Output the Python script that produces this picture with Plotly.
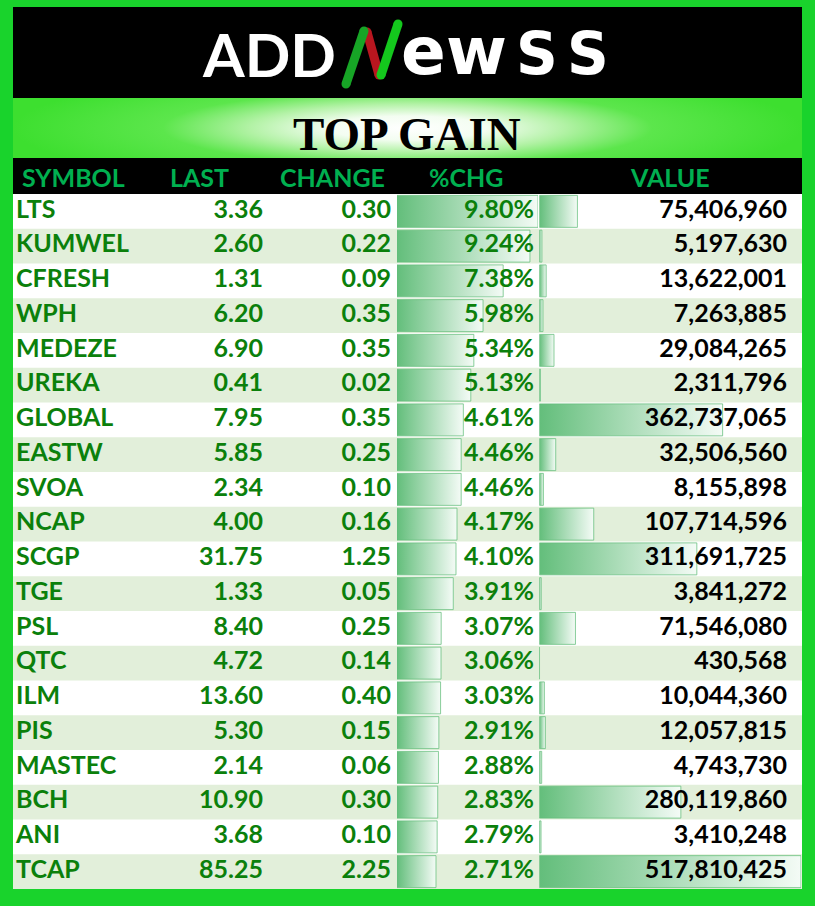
import plotly.graph_objects as go

# ---- data ----
symbols = ["LTS", "KUMWEL", "CFRESH", "WPH", "MEDEZE", "UREKA", "GLOBAL", "EASTW", "SVOA", "NCAP",
           "SCGP", "TGE", "PSL", "QTC", "ILM", "PIS", "MASTEC", "BCH", "ANI", "TCAP"]
last = [3.36, 2.60, 1.31, 6.20, 6.90, 0.41, 7.95, 5.85, 2.34, 4.00,
        31.75, 1.33, 8.40, 4.72, 13.60, 5.30, 2.14, 10.90, 3.68, 85.25]
change = [0.30, 0.22, 0.09, 0.35, 0.35, 0.02, 0.35, 0.25, 0.10, 0.16,
          1.25, 0.05, 0.25, 0.14, 0.40, 0.15, 0.06, 0.30, 0.10, 2.25]
pct_chg = [9.80, 9.24, 7.38, 5.98, 5.34, 5.13, 4.61, 4.46, 4.46, 4.17,
           4.10, 3.91, 3.07, 3.06, 3.03, 2.91, 2.88, 2.83, 2.79, 2.71]
value = [75406960, 5197630, 13622001, 7263885, 29084265, 2311796, 362737065, 32506560, 8155898, 107714596,
         311691725, 3841272, 71546080, 430568, 10044360, 12057815, 4743730, 280119860, 3410248, 517810425]
headers = ["SYMBOL", "LAST", "CHANGE", "%CHG", "VALUE"]
title = "TOP GAIN"

# ---- layout / style ----
W, H = 815, 906
LEFT, RIGHT = 13, 802
ROWS_TOP, ROWS_BOTTOM = 194, 889
BORDER = "#19d32c"
ROW_ALT = "#e2efda"
TXT_GREEN = "#0b800b"
HEAD_GREEN = "#00b050"
BAR_SCALE = [[0, "#63be7b"], [1, "#f4fbf6"]]
BAR_EDGE = "rgba(99,190,123,0.75)"
FONT = "Lato"
n = len(symbols)
rows = list(range(n))


def px(x):
    return x / W


def py(y):
    return 1 - y / H


fig = go.Figure()

# data bars: %CHG on x, VALUE on x2 (drawn before the text subplot x3)
h = 0.46
for axis, vals in (("x", pct_chg), ("x2", value)):
    for i, v in enumerate(vals):
        fig.add_trace(go.Scatter(
            x=[0, v, v, 0, 0], y=[i - h, i - h, i + h, i + h, i - h], xaxis=axis, yaxis="y",
            mode="lines", fill="toself", fillgradient=dict(type="horizontal", colorscale=BAR_SCALE),
            line=dict(color=BAR_EDGE, width=1), hoverinfo="skip", showlegend=False))


# table text on the pixel-wide x3 axis
def col_text(xpos, labels, pos, color):
    fig.add_trace(go.Scatter(
        x=[xpos] * n, y=rows, text=labels, mode="text", textposition=pos,
        textfont=dict(family=FONT, size=25, color=color, weight="bold"),
        xaxis="x3", yaxis="y", hoverinfo="skip", showlegend=False))


col_text(16, symbols, "middle right", TXT_GREEN)
col_text(263, [f"{v:.2f}" for v in last], "middle left", TXT_GREEN)
col_text(391, [f"{v:.2f}" for v in change], "middle left", TXT_GREEN)
col_text(534, [f"{v:.2f}%" for v in pct_chg], "middle left", TXT_GREEN)
col_text(787, [f"{v:,}" for v in value], "middle left", "#000000")

# gradient band behind the title (x3 / y2 pixel subplot)
fig.add_trace(go.Scatter(
    x=[LEFT, RIGHT, RIGHT, LEFT, LEFT], y=[68, 68, 188, 188, 68],
    xaxis="x3", yaxis="y2", mode="lines", fill="toself", line=dict(width=0),
    fillgradient=dict(type="radial", colorscale=[[0, "#ffffff"], [0.2, "#f3fdf1"], [0.4, "#b2f2a5"],
                                                 [0.62, "#5ce64c"], [1, "#3ddf2f"]]),
    hoverinfo="skip", showlegend=False))

shapes = [dict(type="rect", xref="paper", yref="paper", x0=px(LEFT), x1=px(RIGHT),
               y0=py(ROWS_BOTTOM), y1=py(ROWS_TOP), fillcolor="#ffffff", line=dict(width=0), layer="below")]
for i in rows:
    if i % 2 == 1:
        shapes.append(dict(type="rect", xref="paper", yref="y", x0=px(LEFT), x1=px(RIGHT),
                           y0=i - 0.5, y1=i + 0.5, fillcolor=ROW_ALT, line=dict(width=0), layer="below"))
# black logo header + column header bar
shapes.append(dict(type="rect", xref="paper", yref="paper", x0=px(LEFT), x1=px(RIGHT),
                   y0=py(98), y1=py(7), fillcolor="#000000", line=dict(width=0), layer="above"))
shapes.append(dict(type="rect", xref="paper", yref="paper", x0=px(LEFT), x1=px(RIGHT),
                   y0=py(ROWS_TOP), y1=py(158), fillcolor="#000000", line=dict(width=0), layer="above"))

# logo "N" strokes
strokes = [((367, 32), (379, 75), "#b8161f"),
           ((346, 84), (364, 31), "#17a526"),
           ((381, 75), (398, 24), "#14c81d")]
for (x0, y0), (x1, y1), c in strokes:
    shapes.append(dict(type="line", xref="paper", yref="paper", x0=px(x0), y0=py(y0), x1=px(x1), y1=py(y1),
                       line=dict(color=c, width=9), layer="above"))
    for (cx, cy) in [(x0, y0), (x1, y1)]:
        shapes.append(dict(type="circle", xref="paper", yref="paper", x0=px(cx - 4.5), x1=px(cx + 4.5),
                           y0=py(cy + 4.5), y1=py(cy - 4.5), fillcolor=c, line=dict(width=0), layer="above"))

annotations = [dict(text="ADD", x=px(269), y=py(54), xref="paper", yref="paper", showarrow=False,
                    xanchor="center", yanchor="middle",
                    font=dict(family="Lato", size=60, color="#ffffff", weight="bold"))]
logo = [("e", 423, 66, 52), ("w", 477, 66, 52), ("S", 537, 58, 54), ("S", 588, 58, 54)]
for ch, cx, size, cy in logo:
    annotations.append(dict(text=ch, x=px(cx), y=py(cy), xref="paper", yref="paper", showarrow=False,
                            xanchor="center", yanchor="middle",
                            font=dict(family="DejaVu Sans", size=size, color="#ffffff", weight="bold")))

annotations.append(dict(text=title, x=px(407), y=py(134), xref="paper", yref="paper", showarrow=False,
                        xanchor="center", yanchor="middle",
                        font=dict(family="Liberation Serif", size=47, color="#000000", weight="bold")))

head_pos = [(20, "left"), (199, "center"), (332, "center"), (466, "center"), (670, "center")]
for label, (hx, anc) in zip(headers, head_pos):
    annotations.append(dict(text=label, x=px(hx), y=py(177), xref="paper", yref="paper", showarrow=False,
                            xanchor=anc, yanchor="middle",
                            font=dict(family=FONT, size=25, color=HEAD_GREEN, weight="bold")))

ax = dict(visible=False, fixedrange=True)
fig.update_layout(
    width=W, height=H, margin=dict(l=0, r=0, t=0, b=0),
    paper_bgcolor=BORDER, plot_bgcolor="rgba(0,0,0,0)", showlegend=False,
    xaxis=dict(ax, domain=[px(397), px(538)], range=[0, max(pct_chg)], anchor="y"),
    xaxis2=dict(ax, domain=[px(539.3), px(801)], range=[0, max(value)], anchor="y"),
    xaxis3=dict(ax, domain=[0, 1], range=[0, W], anchor="y"),
    yaxis=dict(ax, domain=[py(ROWS_BOTTOM), py(ROWS_TOP)], range=[n - 0.5, -0.5], anchor="x3"),
    yaxis2=dict(ax, domain=[0, 1], range=[H, 0], anchor="x3"),
    shapes=shapes, annotations=annotations,
)

fig.write_html("out.html", config={"displayModeBar": False},
               post_script="document.body.style.margin='0';"
                           "document.body.style.background='" + BORDER + "';")
